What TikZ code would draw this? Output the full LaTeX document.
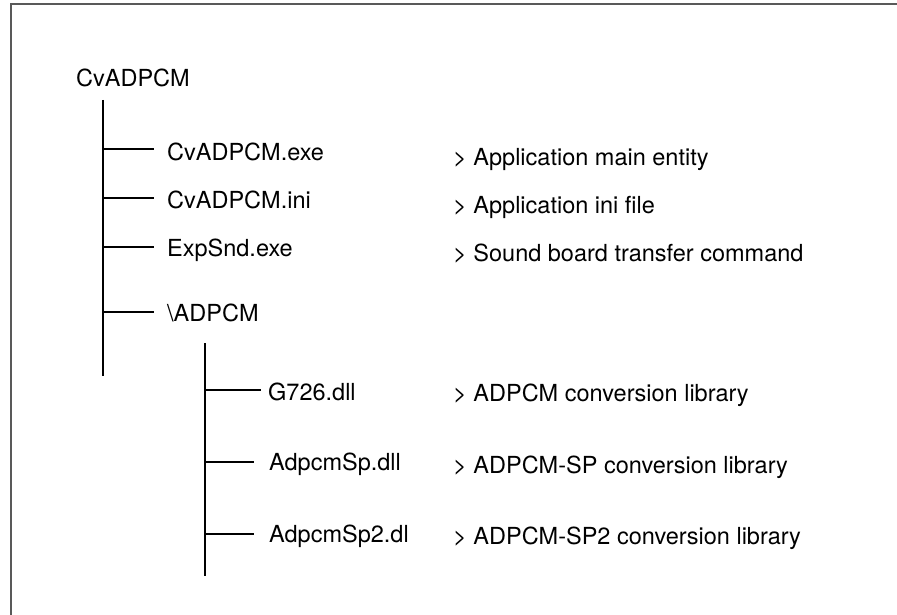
\documentclass[tikz,border=0pt]{standalone}
\usepackage{fontspec}
\setmainfont{TeX Gyre Heros}
\begin{document}
\begin{tikzpicture}[x=1pt,y=-1pt,
  lbl/.style={anchor=base west,inner sep=0pt,font=\fontsize{23.5}{28}\selectfont},
  tree/.style={line width=1.3pt,black},
  frame/.style={line width=1.3pt,black!65}]
\useasboundingbox (0,0) rectangle (897,615);
% frame
\coordinate (f1) at (11,615);
\coordinate (f2) at (11,4);
\coordinate (f3) at (897,4);
\draw[frame] (f1) -- (f2) -- (f3);
% root
\node[lbl] (root) at (76,86.7) {CvADPCM};
% main trunk
\coordinate (t0) at (103,100);
\coordinate (t1) at (103,376);
\draw[tree] (t0) -- (t1);
% level-1 items
\node[lbl] (exe) at (167,160.4) {CvADPCM.exe};
\node[lbl] (ini) at (167,208.4) {CvADPCM.ini};
\node[lbl] (snd) at (167,256.4) {ExpSnd.exe};
\node[lbl] (dir) at (167,321) {\textbackslash ADPCM};
\foreach \n/\y in {exe/149,ini/198,snd/247,dir/312}{
  \coordinate (a\n) at (103,\y);
  \coordinate (b\n) at (154,\y);
  \draw[tree] (a\n) -- (b\n);
}
% descriptions
\node[lbl] (dexe) at (453,165.4) {> Application main entity};
\node[lbl] (dini) at (453,213.4) {> Application ini file};
\node[lbl] (dsnd) at (453,261.4) {> Sound board transfer command};
% sub trunk
\coordinate (s0) at (205,343);
\coordinate (s1) at (205,576);
\draw[tree] (s0) -- (s1);
\node[lbl] (g726) at (268,400.4) {G726.dll};
\node[lbl] (sp) at (269,470.4) {AdpcmSp.dll};
\node[lbl] (sp2) at (269,542.4) {AdpcmSp2.dl};
\coordinate (ag726) at (205,390);
\coordinate (bg726) at (261,390);
\coordinate (asp) at (205,462);
\coordinate (bsp) at (254,462);
\coordinate (asp2) at (205,534);
\coordinate (bsp2) at (254,534);
\draw[tree] (ag726) -- (bg726);
\draw[tree] (asp) -- (bsp);
\draw[tree] (asp2) -- (bsp2);
\node[lbl] (dg726) at (453,401.4) {> ADPCM conversion library};
\node[lbl] (dsp) at (453,473.4) {> ADPCM-SP conversion library};
\node[lbl] (dsp2) at (453,544.4) {> ADPCM-SP2 conversion library};
\end{tikzpicture}
\end{document}
